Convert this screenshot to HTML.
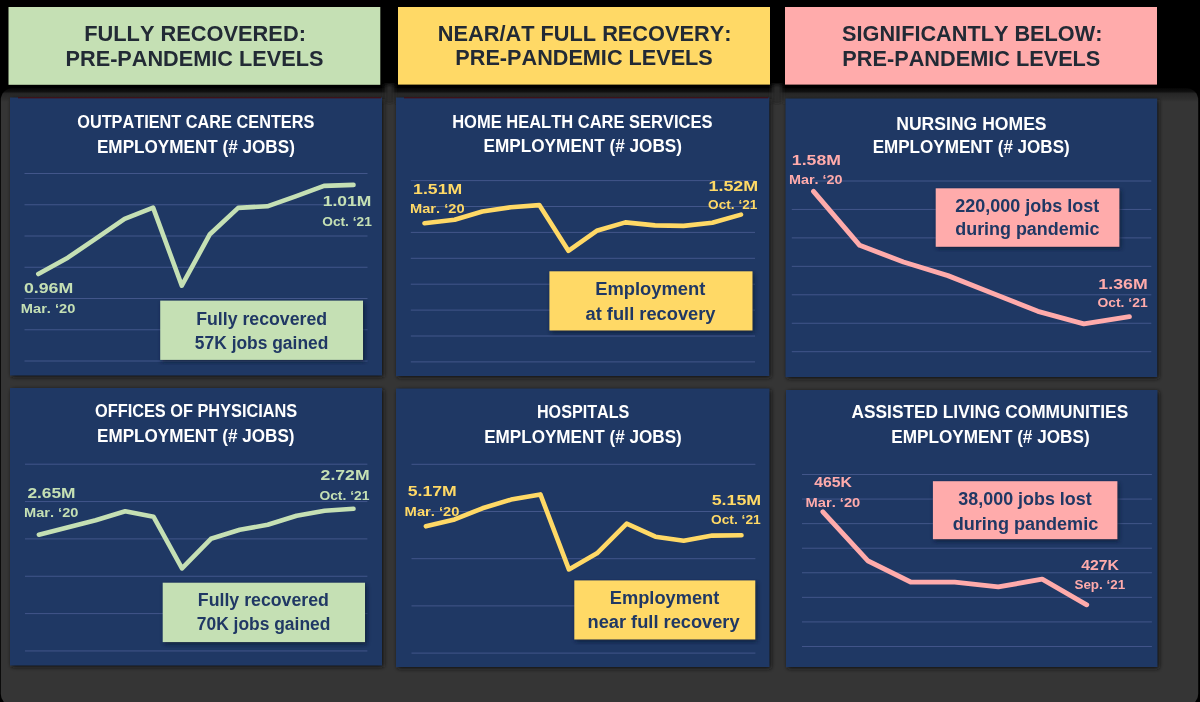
<!DOCTYPE html><html><head><meta charset="utf-8"><style>
html,body{margin:0;padding:0;background:#000;width:1200px;height:702px;overflow:hidden}
svg{display:block;will-change:transform}
text{font-family:"Liberation Sans",sans-serif;font-weight:bold;font-kerning:none;font-variant-ligatures:none}
</style></head><body>
<svg width="1200" height="702" viewBox="0 0 1200 702">
<defs><filter id="blur" x="-5%" y="-5%" width="110%" height="110%"><feGaussianBlur stdDeviation="2"/></filter></defs>
<rect x="0" y="0" width="1200" height="702" fill="#000"/>
<linearGradient id="gtop" x1="0" y1="88" x2="0" y2="102" gradientUnits="userSpaceOnUse"><stop offset="0" stop-color="#050505"/><stop offset="0.25" stop-color="#101010"/><stop offset="0.4" stop-color="#262626"/><stop offset="0.8" stop-color="#2e2e2e"/><stop offset="1" stop-color="#353535"/></linearGradient>
<rect x="0.8" y="88" width="1197.4" height="618" rx="12" ry="12" fill="url(#gtop)"/>
<g filter="url(#blur)"><rect x="385" y="84" width="9" height="20" fill="#2a2a2a"/><rect x="772" y="84" width="10" height="20" fill="#2a2a2a"/></g>
<rect x="8.5" y="7" width="371.8" height="77.8" fill="#c5e0b4"/>
<text x="84.24" y="41.00" font-size="22.5" textLength="221.66" lengthAdjust="spacingAndGlyphs" fill="#222a35">FULLY RECOVERED:</text>
<text x="65.55" y="65.50" font-size="22.5" textLength="257.80" lengthAdjust="spacingAndGlyphs" fill="#222a35">PRE-PANDEMIC LEVELS</text>
<rect x="398" y="7" width="372.0" height="77.6" fill="#ffd966"/>
<text x="437.84" y="41.20" font-size="22.5" textLength="293.65" lengthAdjust="spacingAndGlyphs" fill="#222a35">NEAR/AT FULL RECOVERY:</text>
<text x="455.35" y="65.30" font-size="22.5" textLength="257.39" lengthAdjust="spacingAndGlyphs" fill="#222a35">PRE-PANDEMIC LEVELS</text>
<rect x="785" y="7" width="372.0" height="77.6" fill="#ffabab"/>
<text x="842.08" y="41.00" font-size="22.5" textLength="260.31" lengthAdjust="spacingAndGlyphs" fill="#222a35">SIGNIFICANTLY BELOW:</text>
<text x="842.35" y="65.50" font-size="22.5" textLength="258.00" lengthAdjust="spacingAndGlyphs" fill="#222a35">PRE-PANDEMIC LEVELS</text>
<rect x="11.5" y="99.0" width="372.0" height="278.0" fill="#141414" filter="url(#blur)"/>
<rect x="10" y="97.5" width="372.0" height="278.0" fill="#1f3864"/>
<line x1="18" y1="97.8" x2="381" y2="97.8" stroke="#4a0808" stroke-width="1"/>
<line x1="24.5" y1="173.50" x2="367.5" y2="173.50" stroke="#42568a" stroke-width="1"/>
<line x1="24.5" y1="204.75" x2="367.5" y2="204.75" stroke="#42568a" stroke-width="1"/>
<line x1="24.5" y1="236.00" x2="367.5" y2="236.00" stroke="#42568a" stroke-width="1"/>
<line x1="24.5" y1="267.25" x2="367.5" y2="267.25" stroke="#42568a" stroke-width="1"/>
<line x1="24.5" y1="298.50" x2="367.5" y2="298.50" stroke="#42568a" stroke-width="1"/>
<line x1="24.5" y1="329.75" x2="367.5" y2="329.75" stroke="#42568a" stroke-width="1"/>
<line x1="24.5" y1="361.00" x2="367.5" y2="361.00" stroke="#42568a" stroke-width="1"/>
<text x="77.23" y="127.50" font-size="19" textLength="237.15" lengthAdjust="spacingAndGlyphs" fill="#ffffff">OUTPATIENT CARE CENTERS</text>
<text x="96.95" y="152.50" font-size="19" textLength="197.90" lengthAdjust="spacingAndGlyphs" fill="#ffffff">EMPLOYMENT (# JOBS)</text>
<polyline points="38.3,274.0 67.8,257.7 96.2,238.3 124.6,218.8 153.1,207.6 181.8,285.6 209.9,234.2 238.2,207.9 267.3,206.3 295.6,196.3 324.0,185.9 353.5,184.9" fill="none" stroke="#c5e0b4" stroke-width="4.6" stroke-linejoin="round" stroke-linecap="round"/>
<text x="23.90" y="293.10" font-size="15.3" textLength="49.29" lengthAdjust="spacingAndGlyphs" fill="#c5e0b4">0.96M</text>
<text x="20.82" y="312.70" font-size="13.3" textLength="54.58" lengthAdjust="spacingAndGlyphs" fill="#c5e0b4">Mar. ‘20</text>
<text x="322.80" y="206.20" font-size="15.3" textLength="48.57" lengthAdjust="spacingAndGlyphs" fill="#c5e0b4">1.01M</text>
<text x="322.24" y="225.70" font-size="13.3" textLength="49.54" lengthAdjust="spacingAndGlyphs" fill="#c5e0b4">Oct. ‘21</text>
<rect x="161.7" y="302.6" width="202.8" height="59.3" fill="#0c1a33" opacity="0.8" filter="url(#blur)"/>
<rect x="160.2" y="300.6" width="202.8" height="59.3" fill="#c5e0b4"/>
<text x="196.22" y="324.70" font-size="17.5" textLength="130.85" lengthAdjust="spacingAndGlyphs" fill="#203864">Fully recovered</text>
<text x="194.86" y="349.00" font-size="17.5" textLength="133.48" lengthAdjust="spacingAndGlyphs" fill="#203864">57K jobs gained</text>
<rect x="397.5" y="99.0" width="373.3" height="278.5" fill="#141414" filter="url(#blur)"/>
<rect x="396" y="97.5" width="373.3" height="278.5" fill="#1f3864"/>
<line x1="404" y1="97.8" x2="768.3" y2="97.8" stroke="#4a0808" stroke-width="1"/>
<line x1="410.8" y1="180.60" x2="755" y2="180.60" stroke="#42568a" stroke-width="1"/>
<line x1="410.8" y1="206.50" x2="755" y2="206.50" stroke="#42568a" stroke-width="1"/>
<line x1="410.8" y1="232.40" x2="755" y2="232.40" stroke="#42568a" stroke-width="1"/>
<line x1="410.8" y1="258.30" x2="755" y2="258.30" stroke="#42568a" stroke-width="1"/>
<line x1="410.8" y1="284.20" x2="755" y2="284.20" stroke="#42568a" stroke-width="1"/>
<line x1="410.8" y1="310.10" x2="755" y2="310.10" stroke="#42568a" stroke-width="1"/>
<line x1="410.8" y1="336.00" x2="755" y2="336.00" stroke="#42568a" stroke-width="1"/>
<line x1="410.8" y1="361.90" x2="755" y2="361.90" stroke="#42568a" stroke-width="1"/>
<text x="452.20" y="128.00" font-size="19" textLength="260.35" lengthAdjust="spacingAndGlyphs" fill="#ffffff">HOME HEALTH CARE SERVICES</text>
<text x="483.55" y="151.80" font-size="19" textLength="198.50" lengthAdjust="spacingAndGlyphs" fill="#ffffff">EMPLOYMENT (# JOBS)</text>
<polyline points="424.5,223.3 454.6,219.8 482.3,211.5 510.8,207.2 539.3,205.1 568.4,250.8 596.7,230.8 625.4,222.4 655.0,225.4 683.6,225.9 712.3,222.7 741.0,214.6" fill="none" stroke="#ffd966" stroke-width="4.6" stroke-linejoin="round" stroke-linecap="round"/>
<text x="413.09" y="193.60" font-size="15.3" textLength="49.09" lengthAdjust="spacingAndGlyphs" fill="#ffd966">1.51M</text>
<text x="410.02" y="212.60" font-size="13.3" textLength="54.58" lengthAdjust="spacingAndGlyphs" fill="#ffd966">Mar. ‘20</text>
<text x="708.47" y="190.80" font-size="15.3" textLength="49.72" lengthAdjust="spacingAndGlyphs" fill="#ffd966">1.52M</text>
<text x="708.14" y="209.30" font-size="13.3" textLength="49.24" lengthAdjust="spacingAndGlyphs" fill="#ffd966">Oct. ‘21</text>
<rect x="550.9" y="273.3" width="203.1" height="59.2" fill="#0c1a33" opacity="0.8" filter="url(#blur)"/>
<rect x="549.4" y="271.3" width="203.1" height="59.2" fill="#ffd966"/>
<text x="595.17" y="294.80" font-size="17.5" textLength="110.25" lengthAdjust="spacingAndGlyphs" fill="#203864">Employment</text>
<text x="585.56" y="320.00" font-size="17.5" textLength="129.93" lengthAdjust="spacingAndGlyphs" fill="#203864">at full recovery</text>
<rect x="787.0" y="100.0" width="371.7" height="278.5" fill="#141414" filter="url(#blur)"/>
<rect x="785.5" y="98.5" width="371.7" height="278.5" fill="#1f3864"/>
<line x1="791.8" y1="181.00" x2="1151.3" y2="181.00" stroke="#42568a" stroke-width="1"/>
<line x1="791.8" y1="209.45" x2="1151.3" y2="209.45" stroke="#42568a" stroke-width="1"/>
<line x1="791.8" y1="237.90" x2="1151.3" y2="237.90" stroke="#42568a" stroke-width="1"/>
<line x1="791.8" y1="266.35" x2="1151.3" y2="266.35" stroke="#42568a" stroke-width="1"/>
<line x1="791.8" y1="294.80" x2="1151.3" y2="294.80" stroke="#42568a" stroke-width="1"/>
<line x1="791.8" y1="323.25" x2="1151.3" y2="323.25" stroke="#42568a" stroke-width="1"/>
<line x1="791.8" y1="351.70" x2="1151.3" y2="351.70" stroke="#42568a" stroke-width="1"/>
<text x="896.22" y="129.50" font-size="19" textLength="150.36" lengthAdjust="spacingAndGlyphs" fill="#ffffff">NURSING HOMES</text>
<text x="872.66" y="153.30" font-size="19" textLength="197.09" lengthAdjust="spacingAndGlyphs" fill="#ffffff">EMPLOYMENT (# JOBS)</text>
<polyline points="813.5,191.3 859.7,245.3 903.5,262.0 947.9,275.6 993.0,293.5 1037.9,311.3 1083.8,323.8 1129.4,316.7" fill="none" stroke="#ffabab" stroke-width="4.9" stroke-linejoin="round" stroke-linecap="round"/>
<text x="791.89" y="165.00" font-size="15.3" textLength="48.99" lengthAdjust="spacingAndGlyphs" fill="#ffabab">1.58M</text>
<text x="789.04" y="184.40" font-size="13.3" textLength="53.55" lengthAdjust="spacingAndGlyphs" fill="#ffabab">Mar. ‘20</text>
<text x="1098.38" y="288.80" font-size="15.3" textLength="49.30" lengthAdjust="spacingAndGlyphs" fill="#ffabab">1.36M</text>
<text x="1097.43" y="307.30" font-size="13.3" textLength="50.26" lengthAdjust="spacingAndGlyphs" fill="#ffabab">Oct. ‘21</text>
<rect x="937.2" y="190.3" width="183.7" height="58.5" fill="#0c1a33" opacity="0.8" filter="url(#blur)"/>
<rect x="935.7" y="188.3" width="183.7" height="58.5" fill="#ffabab"/>
<text x="955.38" y="211.50" font-size="17.5" textLength="143.84" lengthAdjust="spacingAndGlyphs" fill="#203864">220,000 jobs lost</text>
<text x="955.27" y="235.40" font-size="17.5" textLength="144.26" lengthAdjust="spacingAndGlyphs" fill="#203864">during pandemic</text>
<rect x="11.5" y="389.5" width="372.0" height="277.5" fill="#141414" filter="url(#blur)"/>
<rect x="10" y="388" width="372.0" height="277.5" fill="#1f3864"/>
<line x1="25" y1="464.20" x2="367.4" y2="464.20" stroke="#42568a" stroke-width="1"/>
<line x1="25" y1="501.55" x2="367.4" y2="501.55" stroke="#42568a" stroke-width="1"/>
<line x1="25" y1="538.90" x2="367.4" y2="538.90" stroke="#42568a" stroke-width="1"/>
<line x1="25" y1="576.25" x2="367.4" y2="576.25" stroke="#42568a" stroke-width="1"/>
<line x1="25" y1="613.60" x2="367.4" y2="613.60" stroke="#42568a" stroke-width="1"/>
<line x1="25" y1="650.95" x2="367.4" y2="650.95" stroke="#42568a" stroke-width="1"/>
<text x="95.03" y="417.00" font-size="19" textLength="202.21" lengthAdjust="spacingAndGlyphs" fill="#ffffff">OFFICES OF PHYSICIANS</text>
<text x="97.06" y="441.60" font-size="19" textLength="197.49" lengthAdjust="spacingAndGlyphs" fill="#ffffff">EMPLOYMENT (# JOBS)</text>
<polyline points="38.9,534.7 67.3,527.5 95.7,520.2 125.2,511.2 153.6,516.8 182.0,568.4 210.9,538.8 239.8,529.8 267.7,524.8 296.6,515.8 324.6,510.8 353.5,508.8" fill="none" stroke="#c5e0b4" stroke-width="4.6" stroke-linejoin="round" stroke-linecap="round"/>
<text x="27.40" y="497.80" font-size="15.3" textLength="48.16" lengthAdjust="spacingAndGlyphs" fill="#c5e0b4">2.65M</text>
<text x="24.02" y="516.80" font-size="13.3" textLength="54.38" lengthAdjust="spacingAndGlyphs" fill="#c5e0b4">Mar. ‘20</text>
<text x="320.59" y="480.30" font-size="15.3" textLength="48.99" lengthAdjust="spacingAndGlyphs" fill="#c5e0b4">2.72M</text>
<text x="319.43" y="499.50" font-size="13.3" textLength="49.95" lengthAdjust="spacingAndGlyphs" fill="#c5e0b4">Oct. ‘21</text>
<rect x="164.2" y="584.7" width="202.3" height="59.4" fill="#0c1a33" opacity="0.8" filter="url(#blur)"/>
<rect x="162.7" y="582.7" width="202.3" height="59.4" fill="#c5e0b4"/>
<text x="197.81" y="606.20" font-size="17.5" textLength="131.16" lengthAdjust="spacingAndGlyphs" fill="#203864">Fully recovered</text>
<text x="196.85" y="629.70" font-size="17.5" textLength="133.50" lengthAdjust="spacingAndGlyphs" fill="#203864">70K jobs gained</text>
<rect x="397.5" y="390.0" width="373.5" height="278.5" fill="#141414" filter="url(#blur)"/>
<rect x="396" y="388.5" width="373.5" height="278.5" fill="#1f3864"/>
<line x1="411.5" y1="464.30" x2="755.4" y2="464.30" stroke="#42568a" stroke-width="1"/>
<line x1="411.5" y1="511.50" x2="755.4" y2="511.50" stroke="#42568a" stroke-width="1"/>
<line x1="411.5" y1="558.70" x2="755.4" y2="558.70" stroke="#42568a" stroke-width="1"/>
<line x1="411.5" y1="605.90" x2="755.4" y2="605.90" stroke="#42568a" stroke-width="1"/>
<line x1="411.5" y1="653.10" x2="755.4" y2="653.10" stroke="#42568a" stroke-width="1"/>
<text x="536.92" y="418.00" font-size="19" textLength="92.41" lengthAdjust="spacingAndGlyphs" fill="#ffffff">HOSPITALS</text>
<text x="484.16" y="442.90" font-size="19" textLength="197.60" lengthAdjust="spacingAndGlyphs" fill="#ffffff">EMPLOYMENT (# JOBS)</text>
<polyline points="425.9,526.3 454.6,519.4 482.4,508.3 511.1,499.6 540.4,494.4 568.9,569.4 597.0,553.3 626.7,523.7 655.4,536.7 683.7,540.7 712.2,535.6 741.5,535.2" fill="none" stroke="#ffd966" stroke-width="4.6" stroke-linejoin="round" stroke-linecap="round"/>
<text x="407.76" y="496.30" font-size="15.3" textLength="49.02" lengthAdjust="spacingAndGlyphs" fill="#ffd966">5.17M</text>
<text x="404.61" y="515.70" font-size="13.3" textLength="54.89" lengthAdjust="spacingAndGlyphs" fill="#ffd966">Mar. ‘20</text>
<text x="711.65" y="505.20" font-size="15.3" textLength="49.54" lengthAdjust="spacingAndGlyphs" fill="#ffd966">5.15M</text>
<text x="710.93" y="524.40" font-size="13.3" textLength="49.85" lengthAdjust="spacingAndGlyphs" fill="#ffd966">Oct. ‘21</text>
<rect x="575.8" y="582.4" width="181.0" height="59.1" fill="#0c1a33" opacity="0.8" filter="url(#blur)"/>
<rect x="574.3" y="580.4" width="181.0" height="59.1" fill="#ffd966"/>
<text x="609.78" y="604.00" font-size="17.5" textLength="109.54" lengthAdjust="spacingAndGlyphs" fill="#203864">Employment</text>
<text x="587.50" y="628.20" font-size="17.5" textLength="152.10" lengthAdjust="spacingAndGlyphs" fill="#203864">near full recovery</text>
<rect x="787.5" y="391.5" width="371.5" height="277.0" fill="#141414" filter="url(#blur)"/>
<rect x="786" y="390" width="371.5" height="277.0" fill="#1f3864"/>
<line x1="802" y1="474.50" x2="1151.9" y2="474.50" stroke="#42568a" stroke-width="1"/>
<line x1="802" y1="499.07" x2="1151.9" y2="499.07" stroke="#42568a" stroke-width="1"/>
<line x1="802" y1="523.64" x2="1151.9" y2="523.64" stroke="#42568a" stroke-width="1"/>
<line x1="802" y1="548.21" x2="1151.9" y2="548.21" stroke="#42568a" stroke-width="1"/>
<line x1="802" y1="572.78" x2="1151.9" y2="572.78" stroke="#42568a" stroke-width="1"/>
<line x1="802" y1="597.35" x2="1151.9" y2="597.35" stroke="#42568a" stroke-width="1"/>
<line x1="802" y1="621.92" x2="1151.9" y2="621.92" stroke="#42568a" stroke-width="1"/>
<line x1="802" y1="646.49" x2="1151.9" y2="646.49" stroke="#42568a" stroke-width="1"/>
<text x="851.57" y="418.00" font-size="19" textLength="276.61" lengthAdjust="spacingAndGlyphs" fill="#ffffff">ASSISTED LIVING COMMUNITIES</text>
<text x="891.35" y="443.00" font-size="19" textLength="198.25" lengthAdjust="spacingAndGlyphs" fill="#ffffff">EMPLOYMENT (# JOBS)</text>
<polyline points="822.9,511.8 867.7,560.7 910.6,582.0 954.7,582.1 998.3,586.9 1042.2,579.1 1086.7,604.8" fill="none" stroke="#ffabab" stroke-width="4.9" stroke-linejoin="round" stroke-linecap="round"/>
<text x="814.26" y="486.90" font-size="15.3" textLength="37.68" lengthAdjust="spacingAndGlyphs" fill="#ffabab">465K</text>
<text x="805.52" y="506.80" font-size="13.3" textLength="54.79" lengthAdjust="spacingAndGlyphs" fill="#ffabab">Mar. ‘20</text>
<text x="1081.16" y="570.30" font-size="15.3" textLength="37.68" lengthAdjust="spacingAndGlyphs" fill="#ffabab">427K</text>
<text x="1074.41" y="589.00" font-size="13.3" textLength="50.86" lengthAdjust="spacingAndGlyphs" fill="#ffabab">Sep. ‘21</text>
<rect x="934.4" y="483.2" width="184.5" height="58.0" fill="#0c1a33" opacity="0.8" filter="url(#blur)"/>
<rect x="932.9" y="481.2" width="184.5" height="58.0" fill="#ffabab"/>
<text x="958.39" y="504.80" font-size="17.5" textLength="133.23" lengthAdjust="spacingAndGlyphs" fill="#203864">38,000 jobs lost</text>
<text x="952.76" y="529.60" font-size="17.5" textLength="145.47" lengthAdjust="spacingAndGlyphs" fill="#203864">during pandemic</text>
</svg></body></html>
